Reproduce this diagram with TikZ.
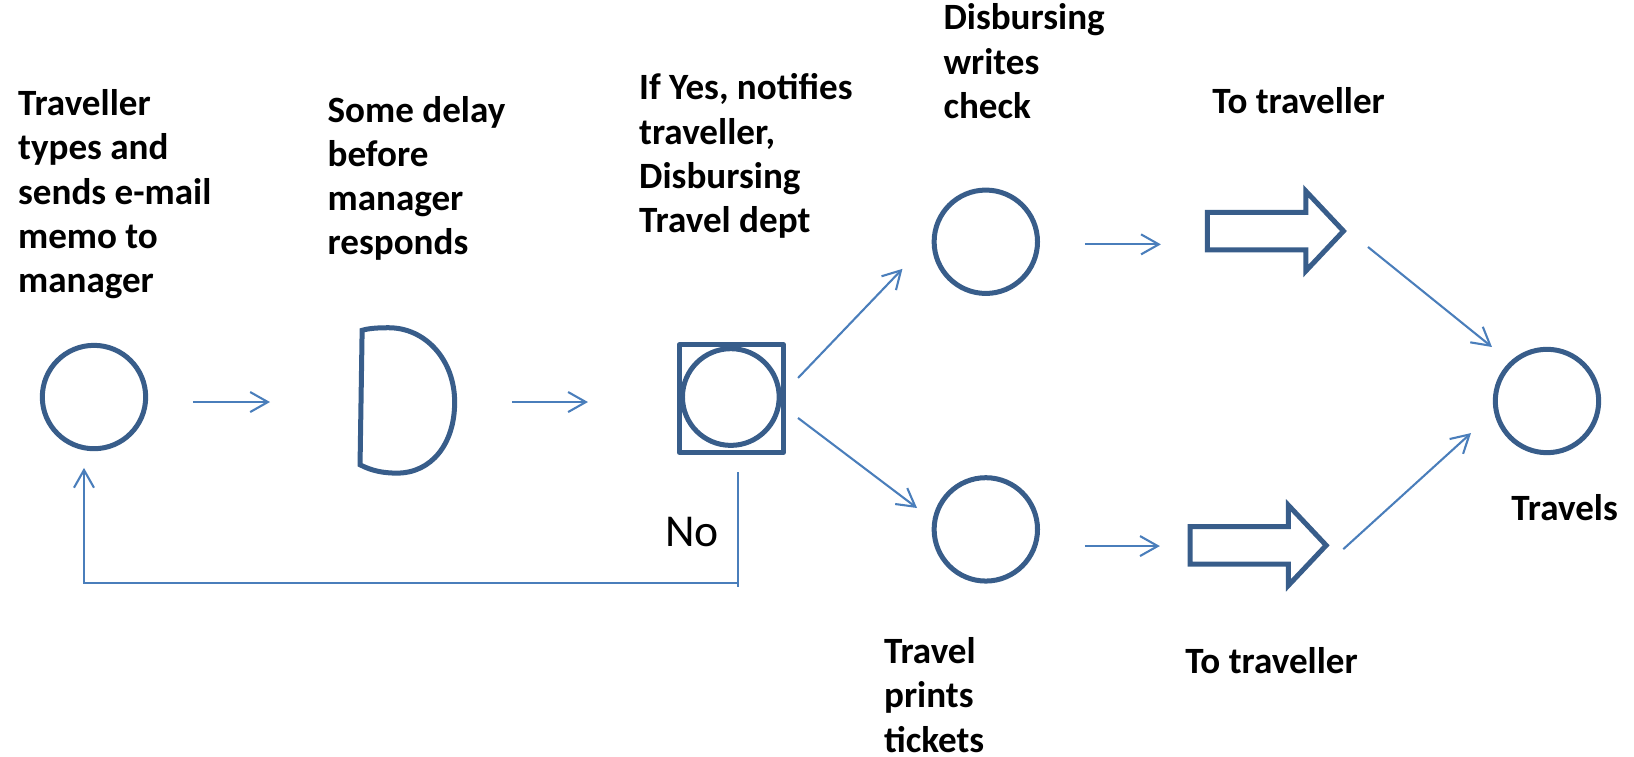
\documentclass[tikz,border=0pt]{standalone}
\usepackage{fontspec}
\setmainfont{Carlito}
\usetikzlibrary{arrows.meta}
\definecolor{shapeblue}{HTML}{385D8A}
\definecolor{linkblue}{HTML}{4A7EBB}
% invisible strut fixing the height of the first line of a label
\newcommand{\firststrut}{\rule{0pt}{15pt}}

\begin{document}
\begin{tikzpicture}[x=0.5pt,y=-0.5pt,
  shape line/.style={draw=shapeblue,line width=2.4pt},
  station/.style={shape line,circle,inner sep=0pt,minimum size=49.6pt},
  gate/.style={shape line,rectangle,inner sep=0pt,line join=round,
    minimum width=50pt,minimum height=51.6pt},
  gatering/.style={shape line,circle,inner sep=0pt,minimum size=46.4pt},
  link/.style={draw=linkblue,line width=1pt,
    -{Straight Barb[length=8.5pt,width=9.6pt]}},
  plainlink/.style={draw=linkblue,line width=1pt},
  label/.style={inner sep=0pt,anchor=north west,align=left,
    font=\bfseries\fontsize{17.8}{21.25}\selectfont},
  flatlabel/.style={inner sep=0pt,anchor=base west,
    font=\bfseries\fontsize{17.8}{21.25}\selectfont},
  blockarrow/.pic={
    \draw[shape line,line join=miter] (0,-18) -- (94.3,-18) -- (94.3,-38.4)
      -- (130.5,0) -- (94.3,38.4) -- (94.3,18) -- (0,18) -- cycle;}
]
\useasboundingbox (0,0) rectangle (1568,726);

% process symbols
\node[station] (memo) at (90.2,381) {};
\draw[shape line,line join=miter] (347.5,317) -- (345.5,446)
  .. controls (357,452) and (368,454) .. (381,454)
  .. controls (414,454) and (436.3,426) .. (436.3,386)
  .. controls (436.3,345) and (408,314.5) .. (373,314.5)
  .. controls (363,314.5) and (354,315) .. (347.5,317) -- cycle;
\node[gate] (decision) at (701.8,382.5) {};
\node[gatering] (decisionring) at (701.3,381) {};
\node[station] (check) at (946,232) {};
\node[station] (tickets) at (946,508) {};
\pic at (1158.7,221.7) {blockarrow};
\pic at (1142.1,523.3) {blockarrow};
\node[station] (travels) at (1484.5,384.8) {};

% connector end points
\coordinate (a1s) at (185.2,385.8);  \coordinate (a1e) at (259.1,385.8);
\coordinate (a2s) at (491.3,385.8);  \coordinate (a2e) at (564.2,385.8);
\coordinate (yuS) at (765.8,362.7);  \coordinate (yuE) at (866,258);
\coordinate (ylS) at (765.8,401.1);  \coordinate (ylE) at (880,487.5);
\coordinate (huS) at (1041,234.5);   \coordinate (huE) at (1114,234.5);
\coordinate (hlS) at (1041,524);     \coordinate (hlE) at (1113,524);
\coordinate (tuS) at (1312.7,237);   \coordinate (tuE) at (1431.7,333);
\coordinate (tlS) at (1289,527);     \coordinate (tlE) at (1411.6,415.6);
\coordinate (fbTop) at (708.2,453);  \coordinate (fbJoin) at (708.2,559.5);
\coordinate (fbBot) at (708.2,563.3);
\coordinate (fbCorner) at (80.6,559.5); \coordinate (fbEnd) at (80.6,449);

% connectors
\draw[link] (a1s) -- (a1e);
\draw[link] (a2s) -- (a2e);
\draw[link] (yuS) -- (yuE);
\draw[link] (ylS) -- (ylE);
\draw[link] (huS) -- (huE);
\draw[link] (hlS) -- (hlE);
\draw[link] (tuS) -- (tuE);
\draw[link] (tlS) -- (tlE);
\draw[plainlink] (fbJoin) -- (fbBot);
\draw[link] (fbTop) -- (fbJoin) -- (fbCorner) -- (fbEnd);

% labels
\node[label] (t1) at (17,80.4) {\firststrut Traveller\\types and\\sends e-mail\\memo to\\manager};
\node[label] (t2) at (314,86.8) {\firststrut Some delay\\before\\manager\\responds};
\node[label] (t3) at (613,65.3) {\firststrut If Yes, notifies\\traveller,\\Disbursing\\Travel dept};
\node[label] (t4) at (905,-1.8) {\firststrut Disbursing\\writes\\check};
\node[flatlabel] (t5) at (1163,108.8) {To traveller};
\node[label] (t6) at (848,606.5) {\firststrut Travel\\prints\\tickets};
\node[flatlabel] (t7) at (1137,646) {To traveller};
\node[flatlabel] (t8) at (1450,499) {Travels};
\node[inner sep=0pt,anchor=base west,font=\fontsize{21.9}{26}\selectfont]
  (no) at (638,524.6) {No};
\end{tikzpicture}
\end{document}
